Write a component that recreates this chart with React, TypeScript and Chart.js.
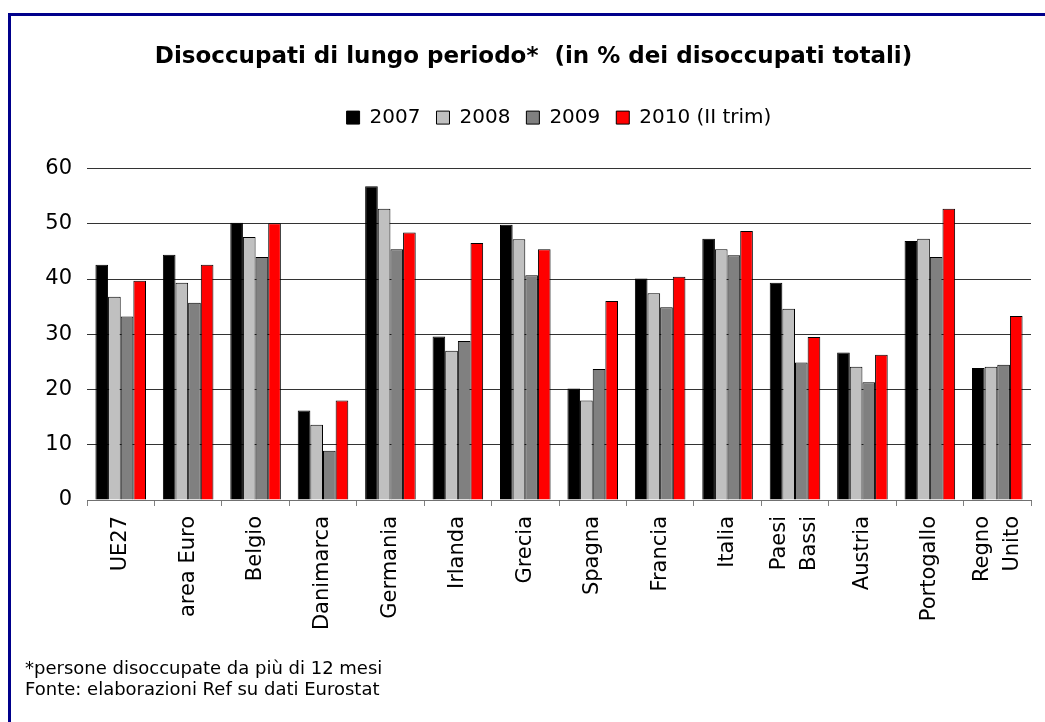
import React, { useEffect, useRef } from 'react';
import { Chart, registerables, layouts } from 'chart.js';

Chart.register(...registerables);

const categories: (string | string[])[] = [
  'UE27', 'area Euro', 'Belgio', 'Danimarca', 'Germania', 'Irlanda', 'Grecia',
  'Spagna', 'Francia', 'Italia', ['Paesi', 'Bassi'], 'Austria', 'Portogallo', ['Regno', 'Unito'],
];
const values2007 = [42.6, 44.4, 50.2, 16.2, 56.8, 29.6, 49.8, 20.2, 40.1, 47.3, 39.3, 26.7, 46.9, 23.9];
const values2008 = [36.8, 39.3, 47.6, 13.6, 52.7, 27.0, 47.2, 18.0, 37.4, 45.4, 34.6, 24.1, 47.3, 24.1];
const values2009 = [33.2, 35.7, 44.0, 8.9, 45.4, 28.8, 40.7, 23.7, 34.9, 44.3, 24.9, 21.3, 44.0, 24.5];
const values2010 = [39.7, 42.6, 50.1, 18.0, 48.4, 46.5, 45.4, 36.0, 40.4, 48.7, 29.5, 26.3, 52.7, 33.3];
const seriesLabels = ['2007', '2008', '2009', '2010 (II trim)'];
const seriesColors = ['#000000', '#C0C0C0', '#808080', '#FF0000'];
const yMin = 0;
const yMax = 60;
const yStep = 10;
const titleText = 'Disoccupati di lungo periodo*  (in % dei disoccupati totali)';
const footnoteLines = ['*persone disoccupate da più di 12 mesi', 'Fonte: elaborazioni Ref su dati Eurostat'];

const FONT = "'DejaVu Sans', Verdana, sans-serif";
const SPACER = 30.9;

// empty layout box that keeps a gap between the legend and the plot area
const spacerPlugin = {
  id: 'legendSpacer',
  beforeInit(chart: any) {
    const box: any = {
      position: 'top',
      weight: 500,
      fullSize: true,
      options: { stackWeight: 1 },
      left: 0, top: 0, right: 0, bottom: 0, width: 0, height: 0,
      isHorizontal() { return true; },
      update(maxWidth: number) { this.width = maxWidth; this.height = SPACER; },
      draw() {},
    };
    layouts.addBox(chart, box);
  },
};

// centre multi-line rotated category labels on their category
const centerMultilinePlugin = {
  id: 'centerMultiline',
  beforeDraw(chart: any) {
    const sc: any = chart.scales.x;
    if (!sc || !sc.getLabelItems) return;
    const items = sc.getLabelItems(chart.chartArea);
    items.forEach((it: any) => {
      if (Array.isArray(it.label) && it.label.length > 1 && !it.__centered) {
        it.options.translation[0] -= ((it.label.length - 1) * it.font.lineHeight) / 2;
        it.__centered = true;
      }
    });
  },
};

export default function App() {
  const ref = useRef<HTMLCanvasElement>(null);

  useEffect(() => {
    const canvas = ref.current;
    if (!canvas) return;
    const allValues = [values2007, values2008, values2009, values2010];
    const chart = new Chart(canvas, {
      type: 'bar',
      data: {
        labels: categories as any,
        datasets: allValues.map((vals, i) => ({
          label: seriesLabels[i],
          data: vals,
          backgroundColor: seriesColors[i],
          borderColor: '#000000',
          borderWidth: 1,
          categoryPercentage: 0.75,
          barPercentage: 1.0,
        })),
      },
      options: {
        responsive: false,
        animation: false,
        devicePixelRatio: 1,
        layout: { padding: { left: 25, right: 3, top: 0, bottom: 0 } },
        font: { family: FONT },
        plugins: {
          tooltip: { enabled: false },
          title: {
            display: true,
            text: titleText,
            color: '#000000',
            font: { family: FONT, size: 23, weight: 'bold', lineHeight: 1.2 },
            padding: { top: 43, bottom: 21 },
          },
          legend: {
            display: true,
            position: 'top',
            fullSize: false,
            labels: {
              color: '#000000',
              font: { family: FONT, size: 20 },
              boxWidth: 13,
              boxHeight: 13,
              padding: 16,
            },
          },
          subtitle: {
            display: true,
            position: 'bottom',
            align: 'start',
            text: footnoteLines,
            color: '#000000',
            font: { family: FONT, size: 18, weight: 'normal', lineHeight: 1.2 },
            padding: { top: 10, bottom: 20.6 },
          },
        },
        scales: {
          x: {
            grid: {
              display: true,
              offset: true,
              drawOnChartArea: false,
              drawTicks: true,
              tickLength: 6,
              color: '#808080',
            },
            border: { display: true, color: '#707070', width: 1 },
            ticks: {
              autoSkip: false,
              minRotation: 90,
              maxRotation: 90,
              padding: 10,
              color: '#000000',
              font: { family: FONT, size: 21, lineHeight: 1.43 },
            },
            afterFit(scale: any) {
              scale.height = 148.2;
              scale.paddingLeft = 0;
              scale.paddingRight = 14;
            },
          },
          y: {
            min: yMin,
            max: yMax,
            grid: {
              display: true,
              drawTicks: false,
              color: '#333333',
              lineWidth: 1,
            },
            border: { display: false },
            ticks: {
              stepSize: yStep,
              padding: 15,
              color: '#000000',
              font: { family: FONT, size: 21 },
            },
            afterFit(scale: any) {
              scale.width = 62;
            },
          },
        },
      },
      plugins: [spacerPlugin, centerMultilinePlugin],
    } as any);
    return () => chart.destroy();
  }, []);

  return (
    <div style={{ position: 'fixed', left: 0, top: 0, width: 1045, height: 722, background: '#ffffff', overflow: 'hidden' }}>
      <div
        style={{
          position: 'absolute', left: 8, top: 13, width: 1100, height: 800,
          border: '3px solid #00008B', boxSizing: 'border-box',
        }}
      />
      <canvas
        ref={ref}
        width={1045}
        height={722}
        style={{ position: 'absolute', left: 0, top: 0, width: 1045, height: 722 }}
      />
    </div>
  );
}
